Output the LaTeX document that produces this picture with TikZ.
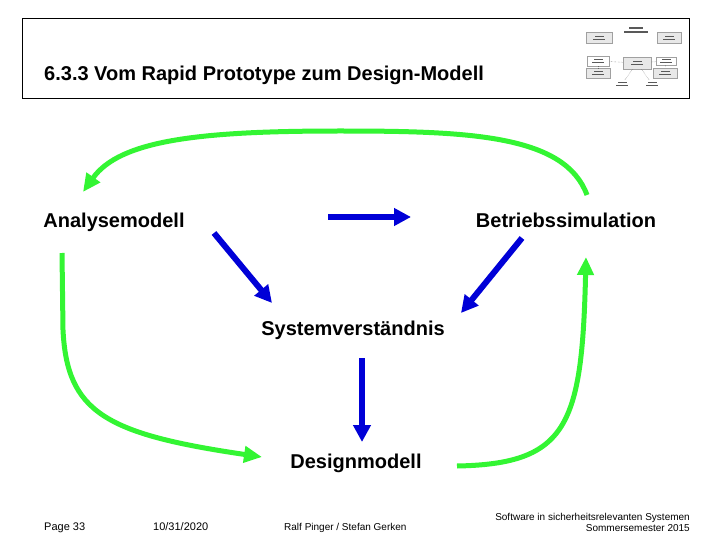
\documentclass[tikz,border=0pt]{standalone}
\usepackage{fontspec}
\setmainfont{Liberation Sans}
\usetikzlibrary{arrows.meta,positioning}
\definecolor{pfeilgruen}{RGB}{51,245,51}
\definecolor{pfeilblau} {RGB}{ 0, 0,215}
\definecolor{rahmengrau}{RGB}{160,160,160}
\definecolor{kastengrau}{RGB}{232,232,232}

\begin{document}
\begin{tikzpicture}[
    x=1pt, y=-1pt,
    modell/.style={font=\fontsize{20}{24}\selectfont\bfseries, inner sep=0pt, anchor=base},
    fuss/.style={font=\fontsize{10}{12}\selectfont, inner sep=0pt},
    blaupfeil/.style={-{Triangle[length=17pt,width=17pt]}, line width=6pt, draw=pfeilblau},
    gruenpfeil/.style={-{Triangle[length=18pt,width=16pt]}, line width=5pt, draw=pfeilgruen},
    minibox/.style={draw=rahmengrau, fill=kastengrau, line width=0.4pt, inner sep=0pt},
    minitext/.style={fill=black!65, inner sep=0pt, minimum height=1.3pt},
    minilink/.style={densely dotted, line width=0.4pt, black!60}
]
    \useasboundingbox (0,0) rectangle (720,540);

    % Kopfzeile
    \draw[line width=0.8pt] (22,18) rectangle (689,98);
    \node[font=\fontsize{20}{24}\selectfont\bfseries, inner sep=0pt, anchor=base west] (titel) at (44,81) {6.3.3 Vom Rapid Prototype zum Design-Modell};

    % Miniatur oben rechts
    \node[minitext, minimum width=14pt] (mt1) at (636,28) {};
    \node[minitext, minimum width=24pt] (mt2) at (636,32) {};
    \node[minibox, minimum width=26pt, minimum height=11pt] (mlo) at (599,38) {};
    \node[minibox, minimum width=24pt, minimum height=11pt] (mro) at (669,38) {};
    \node[minibox, fill=white, minimum width=22pt, minimum height=10pt] (mlm) at (598,61) {};
    \node[minibox, minimum width=28pt, minimum height=12pt] (mc) at (637,63) {};
    \node[minibox, fill=white, minimum width=20pt, minimum height=8pt] (mrm) at (666,61) {};
    \node[minibox, minimum width=24pt, minimum height=10pt] (mlu) at (598,73) {};
    \node[minibox, minimum width=24pt, minimum height=10pt] (mru) at (665,73) {};
    \node[minibox, fill=white, draw=none, minimum width=20pt, minimum height=8pt] (mbl) at (622,84) {};
    \node[minibox, fill=white, draw=none, minimum width=20pt, minimum height=8pt] (mbr) at (652,84) {};
    \foreach \k in {mlo,mro,mlm,mc,mrm,mlu,mru,mbl,mbr}{
        \node[minitext, minimum width=12pt] at ([yshift=-1.4pt]\k.center) {};
        \node[minitext, minimum width=9pt] at ([yshift=1.4pt]\k.center) {};
    }
    \foreach \a/\b in {mc/mlm,mc/mrm,mc/mbl,mc/mbr,mlm/mlu,mrm/mru}
        \draw[minilink] (\a) -- (\b);

    % Modelle
    \node[modell] (ana) at (114,227) {Analysemodell};
    \node[modell] (bet) at (566,227) {Betriebssimulation};
    \node[modell] (sys) at (353,335) {Systemverständnis};
    \node[modell] (des) at (356,468) {Designmodell};

    % Pfeilenden
    \coordinate (ab1) at (328,217);
    \coordinate (ab2) at (411,217);
    \coordinate (as1) at (214,233);
    \coordinate (as2) at (272,303);
    \coordinate (bs1) at (522,238);
    \coordinate (bs2) at (461,313);
    \coordinate (sd1) at (362,358);
    \coordinate (sd2) at (362,442);
    \coordinate (go1) at (587,195);
    \coordinate (go2) at (83,192);
    \coordinate (gl1) at (62,253);
    \coordinate (gl2) at (262,457);
    \coordinate (gr1) at (457,466);
    \coordinate (gr2) at (586,257);

    \draw[blaupfeil] (ab1) -- (ab2);
    \draw[blaupfeil] (as1) -- (as2);
    \draw[blaupfeil] (bs1) -- (bs2);
    \draw[blaupfeil] (sd1) -- (sd2);

    \draw[gruenpfeil] (go1) .. controls (565,135) and (470,131) .. (340,131) .. controls (200,131) and (120,140) .. (go2);
    \draw[gruenpfeil] (gl1) -- (63,330) .. controls (67,412) and (105,434) .. (gl2);
    \draw[gruenpfeil] (gr1) .. controls (568,464) and (582,425) .. (gr2);

    % Fusszeile
    \node[fuss, font=\fontsize{11}{13}\selectfont, anchor=base west] (seite) at (44,530) {Page 33};
    \node[fuss, font=\fontsize{11}{13}\selectfont, anchor=base west] (datum) at (153,530) {10/31/2020};
    \node[fuss, anchor=base west] (autoren) at (284,530) {Ralf Pinger / Stefan Gerken};
    \node[fuss, anchor=base east] (kurs) at (690,520) {Software in sicherheitsrelevanten Systemen};
    \node[fuss, anchor=base east] (semester) at (690,531) {Sommersemester 2015};
\end{tikzpicture}
\end{document}
